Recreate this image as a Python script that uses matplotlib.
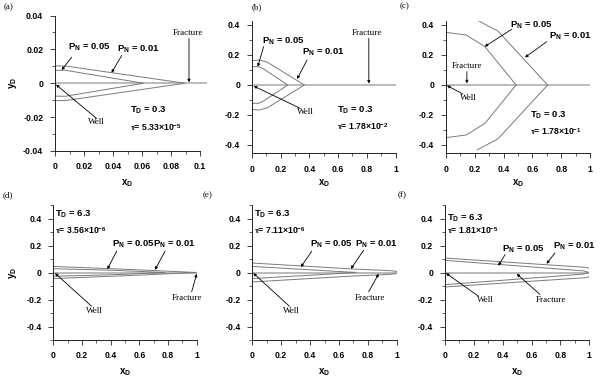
import matplotlib
matplotlib.use("Agg")
import matplotlib.pyplot as plt
from matplotlib.ticker import MultipleLocator, FuncFormatter
import numpy as np

# contour data (upper half, mirrored for the lower half)
a_x01 = [0, 0.008, 0.0897]
a_y01 = [0.0103, 0.0101, 0]
a_x05 = [0, 0.007, 0.061]
a_y05 = [0.0076, 0.0077, 0]

b_x01 = [0, 0.047, 0.105, 0.365]
b_y01 = [0.162, 0.167, 0.153, 0]
b_x05 = [0, 0.047, 0.081, 0.249]
b_y05 = [0.122, 0.122, 0.107, 0]

c_x01 = [0.216, 0.30, 0.36, 0.706]
c_y01 = [0.433, 0.39, 0.36, 0]
c_x05 = [0, 0.141, 0.27, 0.487]
c_y05 = [0.351, 0.333, 0.256, 0]

d_x01 = [0, 0.5, 1.0]
d_y01 = [0.045, 0.024, 0]
d_x05 = [0, 0.4, 0.78]
d_y05 = [0.028, 0.017, 0]

e_x01 = [0, 0.68, 0.95, 0.995, 1.01]
e_y01 = [0.07, 0.027, 0.014, 0.009, 0]
e_x05 = [0, 0.72]
e_y05 = [0.045, 0]

f_x01 = [0, 0.98, 1.015, 1.03]
f_y01 = [0.107, 0.038, 0.025, 0]
f_x05 = [0, 0.96, 1.0]
f_y05 = [0.09, 0.012, 0]

fracture_x = [0, 1]
fracture_y = [0, 0]

labels = ["(a)", "(b)", "(c)", "(d)", "(e)", "(f)"]
td_text = ["0.3", "0.3", "0.3", "6.3", "6.3", "6.3"]
tau_mant = ["5.33", "1.78", "1.78", "3.56", "7.11", "1.81"]
tau_exp = ["-5", "-2", "-1", "-6", "-6", "-5"]

plt.rcParams["font.family"] = "Liberation Sans"
plt.rcParams["font.weight"] = "bold"
plt.rcParams["mathtext.fontset"] = "custom"
plt.rcParams["mathtext.rm"] = "Liberation Sans:bold"
plt.rcParams["mathtext.bf"] = "Liberation Sans:bold"
plt.rcParams["mathtext.it"] = "Liberation Serif"

fig = plt.figure(figsize=(6, 3.81), dpi=100)


def add_ax(x0, x1, y0, y1):
    return fig.add_axes([x0 / 600, 1 - y1 / 381, (x1 - x0) / 600, (y1 - y0) / 381])


fmt = FuncFormatter(lambda v, p: "%g" % round(v, 6))


def style(ax, xlim, ylim, xmaj, ymaj, xend):
    ax.set_xlim(xlim)
    ax.set_ylim(ylim)
    ax.spines["top"].set_visible(False)
    ax.spines["right"].set_visible(False)
    ax.spines["bottom"].set_bounds(0, xend)
    for s in ["left", "bottom"]:
        ax.spines[s].set_linewidth(0.7)
        ax.spines[s].set_color("#222222")
    ax.xaxis.set_major_locator(MultipleLocator(xmaj))
    ax.xaxis.set_minor_locator(MultipleLocator(xmaj / 2))
    ax.yaxis.set_major_locator(MultipleLocator(ymaj))
    ax.yaxis.set_minor_locator(MultipleLocator(ymaj / 2))
    ax.xaxis.set_major_formatter(fmt)
    ax.yaxis.set_major_formatter(fmt)
    ax.tick_params(which="major", direction="out", length=3.5, width=0.6, labelsize=6.2, color="#222222")
    ax.tick_params(which="minor", direction="out", length=2, width=0.5, color="#222222")
    ax.tick_params(axis="x", which="major", pad=4.7)
    ax.tick_params(axis="y", which="major", pad=5)
    ax.patch.set_alpha(0)


def contour(ax, x, y):
    x = np.array(x)
    y = np.array(y)
    ax.plot(np.concatenate([x, x[::-1]]), np.concatenate([y, -y[::-1]]),
            color="#7a7a7a", lw=0.7)


def arrow(ax, head, tail):
    ax.annotate("", xy=head, xytext=tail,
                arrowprops=dict(arrowstyle="-|>", color="k", lw=0.6,
                                mutation_scale=4, shrinkA=0, shrinkB=0))


def serif(ax, x, y, s):
    ax.text(x, y, s, family="Liberation Serif", fontweight="normal",
            fontsize=6.5, ha="center", va="center")


def pn(ax, x, y, val):
    ax.text(x, y, r"$\mathbf{P_N}$ = " + val, fontsize=6.8, ha="left", va="center")


ax_a = add_ax(55, 207.25, 15.5, 151)
ax_b = add_ax(252, 395.5, 20.5, 153.25)
ax_c = add_ax(446, 590, 20.5, 153.25)
ax_d = add_ax(53.3, 196.7, 205, 340)
ax_e = add_ax(252.3, 396.7, 205, 340)
ax_f = add_ax(445, 589.3, 205, 340)
axes = [ax_a, ax_b, ax_c, ax_d, ax_e, ax_f]

style(ax_a, (0, 0.105), (-0.04, 0.04), 0.02, 0.02, 0.1)
style(ax_b, (0, 1), (-0.455, 0.43), 0.2, 0.2, 1)
style(ax_c, (0, 1), (-0.455, 0.43), 0.2, 0.2, 1)
for ax in [ax_d, ax_e, ax_f]:
    style(ax, (0, 1), (-0.5, 0.5), 0.2, 0.2, 1)

for ax in axes:
    ax.plot(fracture_x, fracture_y, color="#b5b5b5", lw=1.3, solid_capstyle="butt")

contour(ax_a, a_x01, a_y01)
contour(ax_a, a_x05, a_y05)
contour(ax_b, b_x01, b_y01)
contour(ax_b, b_x05, b_y05)
contour(ax_c, c_x01, c_y01)
contour(ax_c, c_x05, c_y05)
contour(ax_d, d_x01, d_y01)
contour(ax_d, d_x05, d_y05)
contour(ax_e, e_x01, e_y01)
contour(ax_e, e_x05, e_y05)
contour(ax_f, f_x01, f_y01)
contour(ax_f, f_x05, f_y05)

# axis labels
for ax in axes:
    ax.set_xlabel(r"$\mathbf{x_D}$", fontsize=7, va="center")
ax_a.xaxis.set_label_coords(0.476, -0.236)
ax_b.xaxis.set_label_coords(0.5, -0.225)
ax_c.xaxis.set_label_coords(0.5, -0.225)
for ax in [ax_d, ax_e, ax_f]:
    ax.xaxis.set_label_coords(0.5, -0.235)
for ax in [ax_a, ax_d]:
    ax.set_ylabel(r"$\mathbf{y_D}$", fontsize=7, va="center")
ax_a.yaxis.set_label_coords(-0.276, 0.5)
ax_d.yaxis.set_label_coords(-0.281, 0.5)

# panel (a)
pn(ax_a, 0.009, 0.0213, "0.05")
arrow(ax_a, (0.0046, 0.0078), (0.0115, 0.0154))
pn(ax_a, 0.0425, 0.0203, "0.01")
arrow(ax_a, (0.039, 0.0062), (0.046, 0.0164))
serif(ax_a, 0.0917, 0.0296, "Fracture")
arrow(ax_a, (0.0924, 0.0006), (0.0924, 0.0263))
serif(ax_a, 0.0283, -0.023, "Well")
arrow(ax_a, (0.0007, -0.0008), (0.0287, -0.0208))

# panel (b)
pn(ax_b, 0.07, 0.289, "0.05")
arrow(ax_b, (0.04, 0.122), (0.081, 0.256))
pn(ax_b, 0.349, 0.216, "0.01")
arrow(ax_b, (0.314, 0.04), (0.384, 0.167))
serif(ax_b, 0.802, 0.349, "Fracture")
arrow(ax_b, (0.814, 0.01), (0.814, 0.311))
serif(ax_b, 0.372, -0.178, "Well")
arrow(ax_b, (0.012, -0.007), (0.337, -0.156))

# panel (c)
pn(ax_c, 0.444, 0.4, "0.05")
arrow(ax_c, (0.269, 0.256), (0.456, 0.371))
pn(ax_c, 0.713, 0.327, "0.01")
arrow(ax_c, (0.549, 0.184), (0.70, 0.289))
serif(ax_c, 0.145, 0.127, "Fracture")
arrow(ax_c, (0.145, 0.011), (0.145, 0.089))
serif(ax_c, 0.152, -0.089, "Well")
arrow(ax_c, (0.007, -0.004), (0.117, -0.06))

# panel (d)
pn(ax_d, 0.407, 0.2075, "0.05")
arrow(ax_d, (0.377, 0.025), (0.442, 0.158))
pn(ax_d, 0.698, 0.2075, "0.01")
arrow(ax_d, (0.709, 0.02), (0.779, 0.158))
serif(ax_d, 0.93, -0.1925, "Fracture")
arrow(ax_d, (1.0, -0.01), (0.965, -0.1425))
serif(ax_d, 0.284, -0.285, "Well")
arrow(ax_d, (0.012, -0.005), (0.267, -0.25))

# panel (e)
pn(ax_e, 0.4, 0.2075, "0.05")
arrow(ax_e, (0.336, 0.04), (0.412, 0.158))
pn(ax_e, 0.713, 0.2075, "0.01")
arrow(ax_e, (0.683, 0.0275), (0.771, 0.165))
serif(ax_e, 0.817, -0.1925, "Fracture")
arrow(ax_e, (0.875, -0.01), (0.806, -0.1425))
serif(ax_e, 0.273, -0.285, "Well")
arrow(ax_e, (0.007, -0.005), (0.257, -0.25))

# panel (f)
pn(ax_f, 0.393, 0.175, "0.05")
arrow(ax_f, (0.37, 0.05), (0.416, 0.1325))
pn(ax_f, 0.75, 0.195, "0.01")
arrow(ax_f, (0.704, 0.065), (0.762, 0.145))
serif(ax_f, 0.732, -0.205, "Fracture")
arrow(ax_f, (0.497, -0.01), (0.658, -0.1625))
serif(ax_f, 0.277, -0.205, "Well")
arrow(ax_f, (0.007, -0.005), (0.231, -0.175))

# T_D and tau text
td_pos = [(0.0517, -0.0162, -0.026), (0.593, -0.167, -0.278), (0.584, -0.2, -0.307),
          (0.012, 0.4325, 0.3075), (0.012, 0.4325, 0.3075), (0.012, 0.4, 0.3075)]
for ax, (x, y1, y2), td, m, e in zip(axes, td_pos, td_text, tau_mant, tau_exp):
    ax.text(x, y1, r"$\mathbf{T_D}$ = " + td, fontsize=6.8, ha="left", va="center")
    ax.text(x, y2, r"$\mathit{\tau}$= " + m + r"$\times$10$^{" + e + "}$",
            fontsize=6.2, ha="left", va="center")

# panel letters
label_pos = [(9, 7), (257, 7), (405, 6), (8, 195), (208, 195), (402, 195)]
for (px, py), lab in zip(label_pos, labels):
    fig.text(px / 600, 1 - py / 381, lab, family="Liberation Serif",
             fontweight="normal", fontsize=6.5, ha="center", va="center")

fig.savefig("out.png", dpi=100)
